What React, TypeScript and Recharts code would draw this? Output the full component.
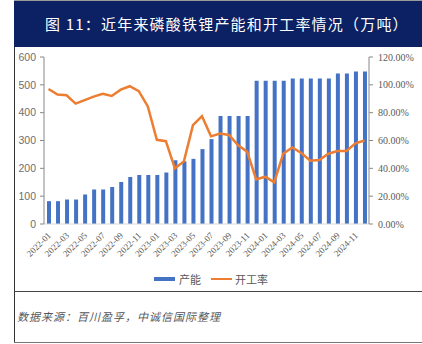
import React from 'react';
import { ComposedChart, Bar, Line, XAxis, YAxis, Legend } from 'recharts';

const months = [
  '2022-01','2022-02','2022-03','2022-04','2022-05','2022-06','2022-07','2022-08','2022-09','2022-10','2022-11','2022-12',
  '2023-01','2023-02','2023-03','2023-04','2023-05','2023-06','2023-07','2023-08','2023-09','2023-10','2023-11','2023-12',
  '2024-01','2024-02','2024-03','2024-04','2024-05','2024-06','2024-07','2024-08','2024-09','2024-10','2024-11','2024-12',
];
const capacity = [82,82,88,88,106,124,124,133,151,169,176,176,176,185,229,225,234,269,305,388,388,388,388,515,515,515,515,523,523,523,523,523,541,541,548,548];
const rate = [97,93,92.5,86.5,89,91.5,93.5,92,96.5,99,95.5,84.5,60.5,59.5,40,45,71,77.5,63,65,64,56.5,52,32,34,30,50.5,55,51,45.5,46,50.5,52.5,52.5,58,60];
const leftTicks = [0,100,200,300,400,500,600];
const rightTicks = [0,20,40,60,80,100,120];

const data = months.map((m, i) => ({ month: m, cap: capacity[i], rate: rate[i] }));

const BLUE = '#4472C4';
const ORANGE = '#ED7D31';

const XTick = (props: any) => {
  const { x, y, payload } = props;
  return (
    <g transform={`translate(${x + 3},${y + 4})`}>
      <text x={0} y={0} transform="rotate(-45)" textAnchor="end" fontSize={9} fontFamily="'Liberation Serif', serif" fill="#595959">
        {payload.value}
      </text>
    </g>
  );
};

const LegendContent = () => (
  <div style={{ height: 16, display: 'flex', justifyContent: 'center', alignItems: 'center', fontFamily: "'Noto Sans CJK SC', sans-serif", fontSize: 11, color: '#595959' }}>
    <span style={{ display: 'inline-block', width: 21, height: 4, background: BLUE, marginRight: 4 }} />
    <span style={{ marginRight: 10 }}>产能</span>
    <span style={{ display: 'inline-block', width: 21, height: 2, background: ORANGE, marginRight: 3 }} />
    <span>开工率</span>
  </div>
);

export default function App() {
  return (
    <div style={{ position: 'absolute', left: 0, top: 0, width: 422, height: 344, background: '#fff', overflow: 'hidden' }}>
      <div style={{ position: 'absolute', left: 14, top: 0, width: 408, height: 1, background: '#9a9a9a' }} />
      <div style={{ position: 'absolute', left: 14, top: 1, width: 408, height: 46, background: '#0B2163', color: '#fff', fontFamily: "'Noto Sans CJK SC', sans-serif", fontSize: 15, lineHeight: '46px', paddingLeft: 31, letterSpacing: 1.2, boxSizing: 'border-box', whiteSpace: 'nowrap' }}>
        图 11：近年来磷酸铁锂产能和开工率情况（万吨）
      </div>
      <div style={{ position: 'absolute', left: 14, top: 47, width: 1, height: 296, background: '#333' }} />
      <div style={{ position: 'absolute', left: 14, top: 291, width: 408, height: 1, background: '#444' }} />
      <div style={{ position: 'absolute', left: 14, top: 342, width: 408, height: 1, background: '#777' }} />
      <div style={{ position: 'absolute', left: 17, top: 308, fontFamily: "'Noto Sans CJK SC', sans-serif", fontStyle: 'italic', fontSize: 11, letterSpacing: 1, color: '#555', whiteSpace: 'nowrap', lineHeight: '16px' }}>
        数据来源：百川盈孚，中诚信国际整理
      </div>
      <div style={{ position: 'absolute', left: 0, top: 0 }}>
        <ComposedChart width={422} height={300} data={data} margin={{ top: 57, left: 14, right: 3, bottom: 0 }}>
          <XAxis dataKey="month" interval={1} tick={<XTick />} tickLine={false} axisLine={{ stroke: '#d9d9d9' }} height={60} />
          <YAxis yAxisId="left" orientation="left" domain={[0, 600]} ticks={leftTicks} width={30} tickSize={4} tickMargin={4}
            axisLine={{ stroke: '#888' }} tickLine={{ stroke: '#888' }}
            tick={{ fontSize: 10.5, fill: '#6e6e6e', fontFamily: "'Liberation Sans', sans-serif" }} />
          <YAxis yAxisId="right" orientation="right" domain={[0, 120]} ticks={rightTicks} width={50} tickSize={4} tickMargin={5}
            axisLine={{ stroke: '#888' }} tickLine={{ stroke: '#888' }}
            tickFormatter={(v: number) => `${v.toFixed(2)}%`}
            tick={{ fontSize: 10, fill: '#595959', fontFamily: "'Liberation Serif', serif", textAnchor: 'start' }} />
          <Legend verticalAlign="bottom" content={<LegendContent />} wrapperStyle={{ bottom: 13, left: 0, width: 422 }} />
          <Bar yAxisId="left" dataKey="cap" name="产能" fill={BLUE} barSize={4} isAnimationActive={false} />
          <Line yAxisId="right" dataKey="rate" name="开工率" stroke={ORANGE} strokeWidth={2.5} dot={false} type="linear" isAnimationActive={false} />
        </ComposedChart>
      </div>
    </div>
  );
}
